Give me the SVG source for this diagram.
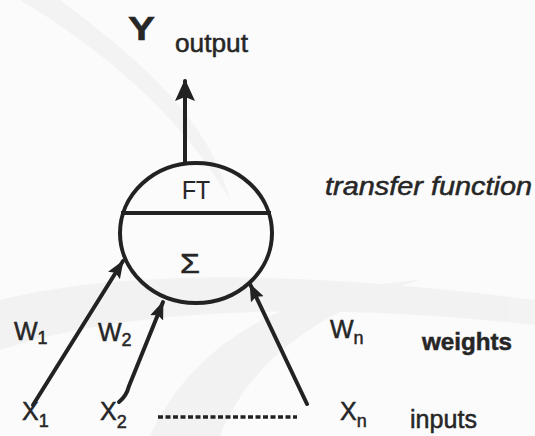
<svg xmlns="http://www.w3.org/2000/svg" width="535" height="436" viewBox="0 0 535 436">
<style>
.ln{stroke:#222;stroke-width:4;fill:none;stroke-linecap:round}
.t{font-family:"Liberation Sans",Arial,sans-serif;fill:#262626;stroke:#262626;stroke-width:0.5}
.bg{fill:#f1f1f1}
</style>
<defs>
<marker id="ah" markerUnits="userSpaceOnUse" markerWidth="24" markerHeight="24" viewBox="0 0 24 24" refX="20" refY="12" orient="auto">
<path d="M0,2 L22,12 L0,22 L4,12 Z" fill="#222"/>
</marker>
<marker id="ahs" markerUnits="userSpaceOnUse" markerWidth="20" markerHeight="20" viewBox="0 0 20 20" refX="17" refY="10" orient="auto">
<path d="M0,3 L18,10 L0,17 L3,10 Z" fill="#222"/>
</marker>
</defs>
<rect width="535" height="436" fill="#fbfbfb"/>
<g id="background" opacity="0.8">
<path class="bg" d="M0,300 C120,270 300,270 535,300 L535,325 C300,300 120,310 0,350 Z"/>
<path class="bg" d="M150,436 C200,330 300,290 420,280 C320,310 250,360 220,436 Z"/>
<path class="bg" d="M60,0 C140,60 210,120 230,200 C190,130 120,60 20,0 Z"/>
</g>
<g id="connectors">
<line class="ln" x1="185" y1="162" x2="185" y2="81" marker-end="url(#ah)"/>
<line class="ln" x1="33" y1="405" x2="123" y2="261" marker-end="url(#ahs)"/>
<path class="ln" d="M119,402 C124,398 127,394 129,386 L163,302" marker-end="url(#ahs)"/>
<line class="ln" x1="307" y1="404" x2="250" y2="284" marker-end="url(#ahs)"/>
<line x1="158" y1="417" x2="297" y2="417" stroke="#222" stroke-width="3.5" stroke-dasharray="5,2.5"/>
</g>
<g id="neuron">
<ellipse cx="196" cy="233" rx="76" ry="70" fill="none" stroke="#222" stroke-width="4"/>
<line x1="121" y1="213" x2="271" y2="213" stroke="#222" stroke-width="4"/>
<text class="t" x="182" y="199" font-size="25" textLength="28" lengthAdjust="spacingAndGlyphs" style="stroke-width:0.2">FT</text>
<text class="t" x="180" y="273" font-size="27" textLength="20" lengthAdjust="spacingAndGlyphs">Σ</text>
</g>
<g id="output-label">
<text class="t" x="128" y="40" font-size="34" font-weight="bold" textLength="27" lengthAdjust="spacingAndGlyphs">Y</text>
<text class="t" x="175" y="52" font-size="25" textLength="73" lengthAdjust="spacingAndGlyphs">output</text>
</g>
<g id="transfer-label">
<text class="t" x="325" y="195" font-size="25" font-style="italic" textLength="207" lengthAdjust="spacingAndGlyphs">transfer function</text>
</g>
<g id="weights">
<text class="t" x="14" y="340" font-size="25">W<tspan font-size="18" dy="4">1</tspan></text>
<text class="t" x="98" y="341" font-size="25">W<tspan font-size="18" dy="5">2</tspan></text>
<text class="t" x="330" y="338" font-size="25">W<tspan font-size="18" dy="6">n</tspan></text>
<text class="t" x="422" y="350" font-size="24" font-weight="bold" textLength="90" lengthAdjust="spacingAndGlyphs">weights</text>
</g>
<g id="inputs">
<text class="t" x="22" y="420" font-size="25">X<tspan font-size="18" dy="7">1</tspan></text>
<text class="t" x="100" y="420" font-size="25">X<tspan font-size="18" dy="8">2</tspan></text>
<text class="t" x="340" y="420" font-size="25">X<tspan font-size="18" dy="7">n</tspan></text>
<text class="t" x="410" y="428" font-size="25" textLength="67" lengthAdjust="spacingAndGlyphs">inputs</text>
</g>
</svg>
